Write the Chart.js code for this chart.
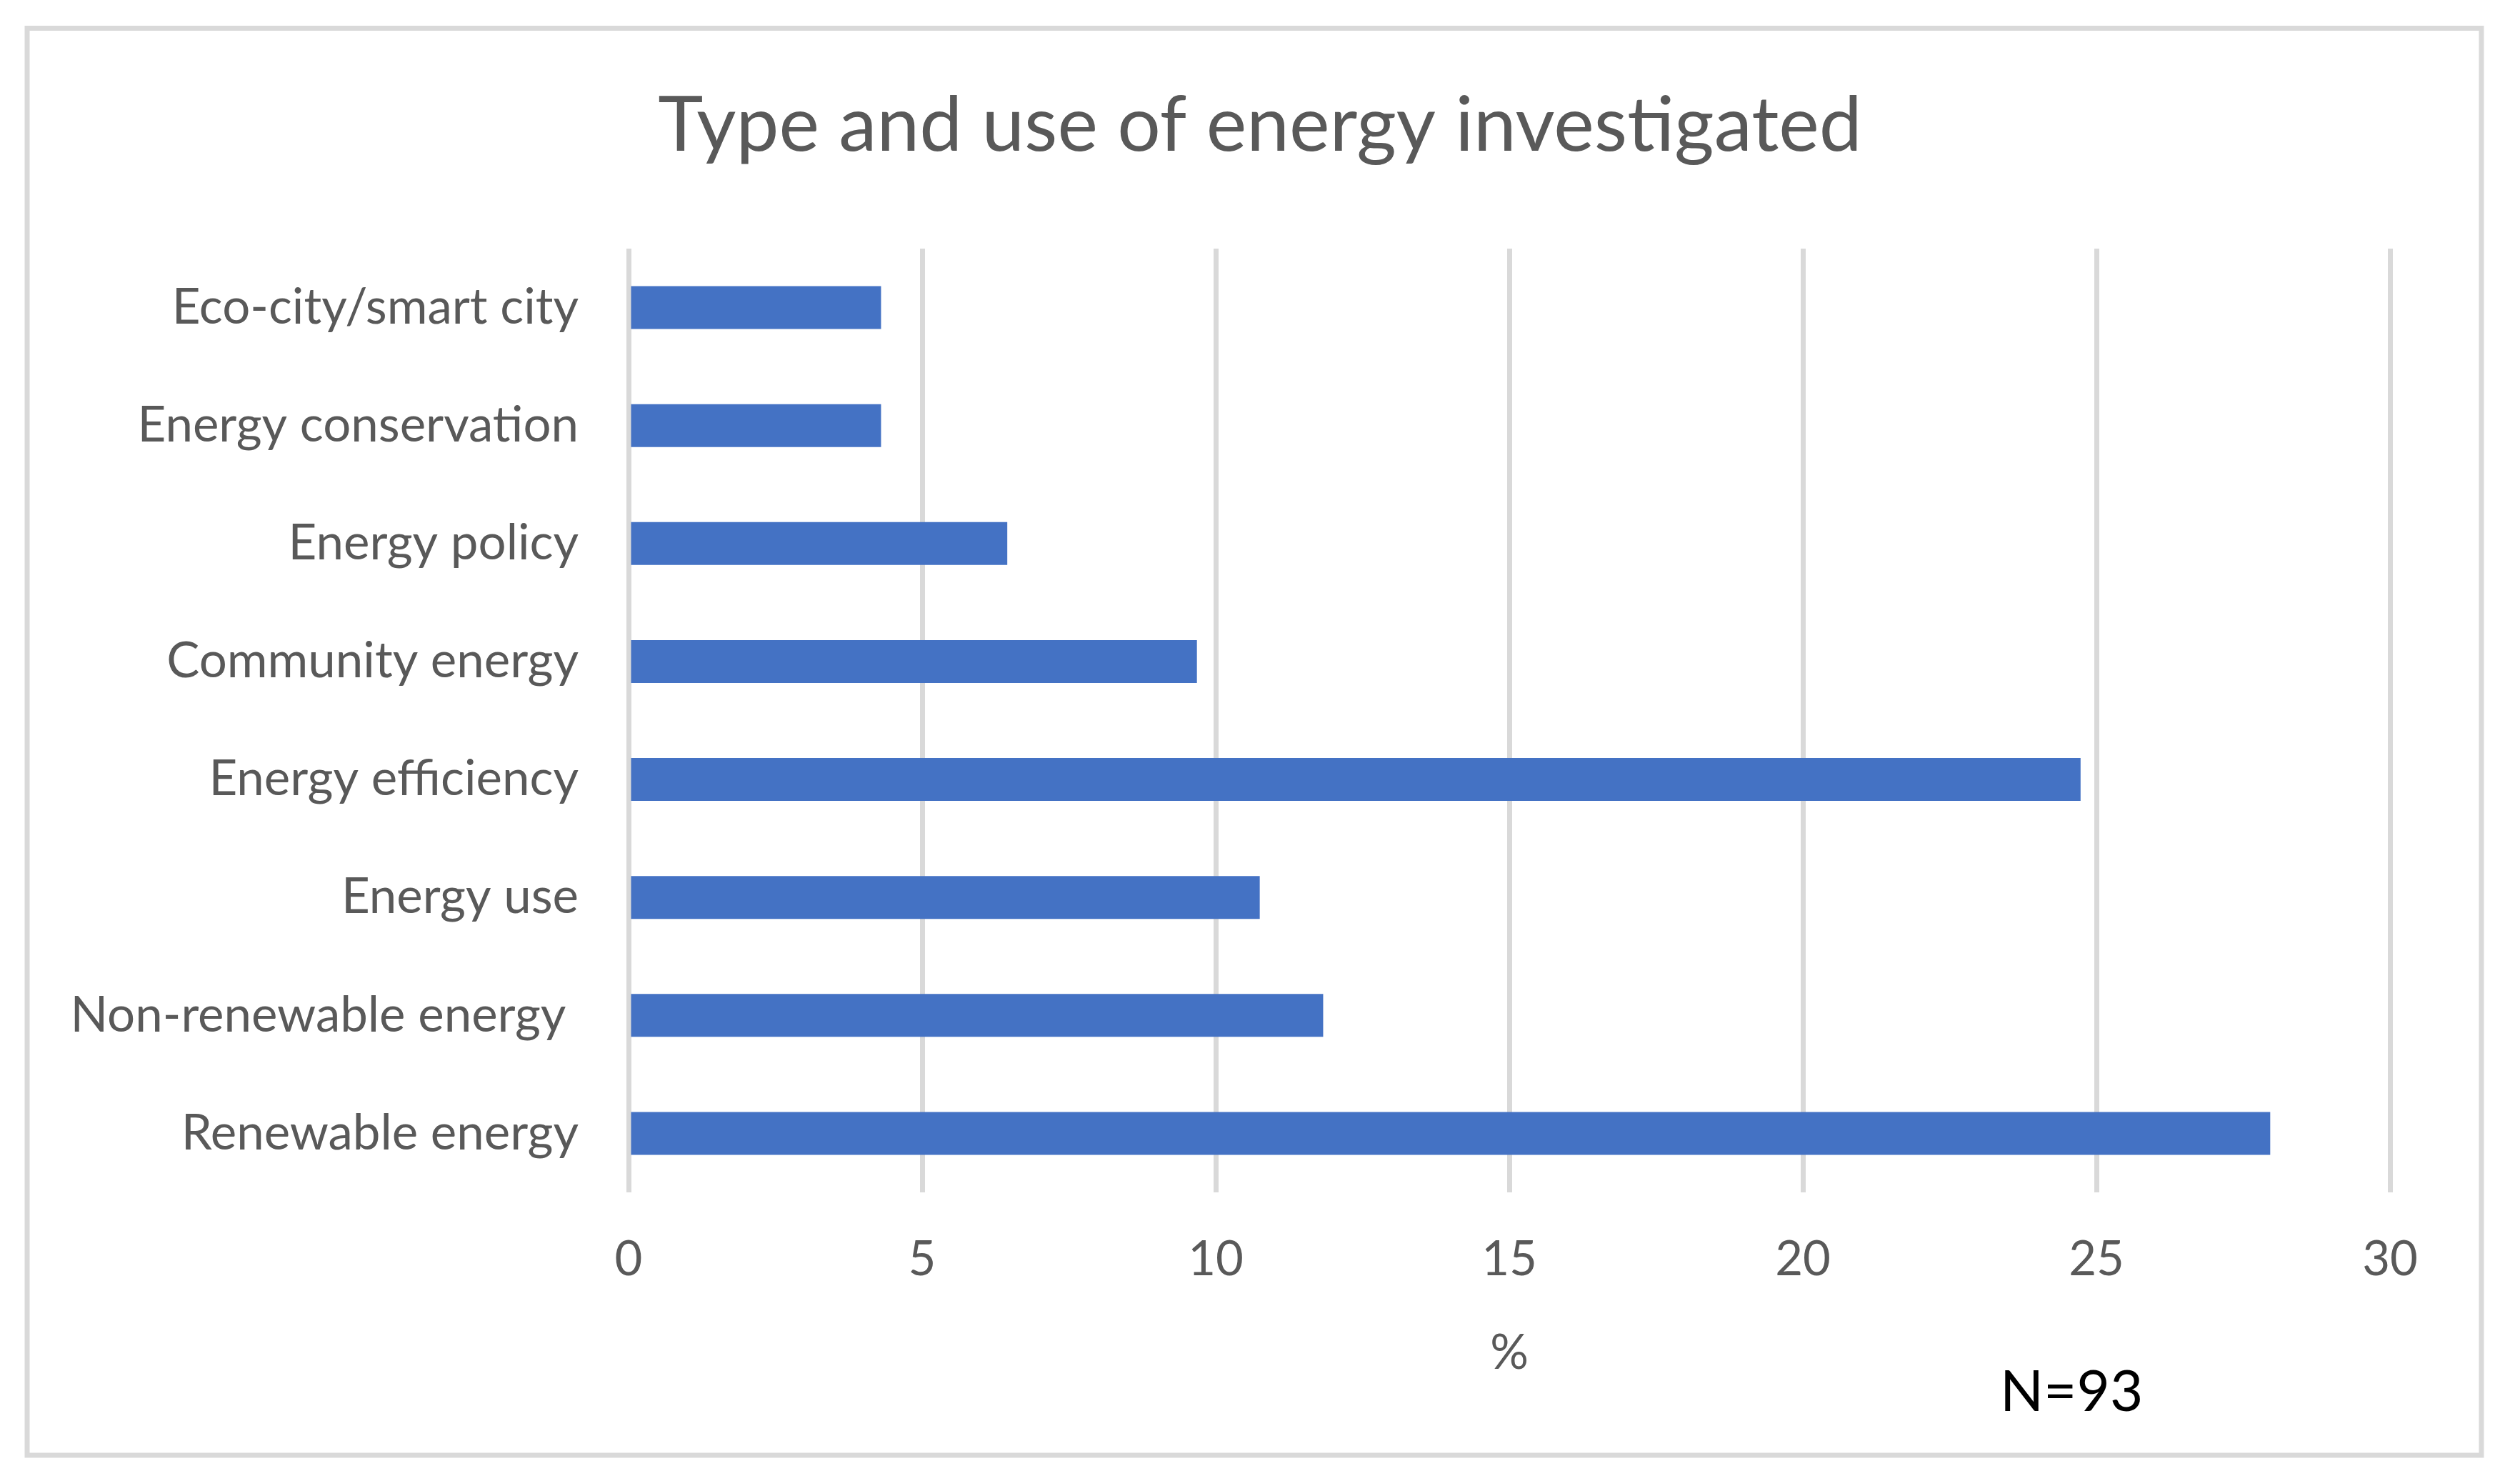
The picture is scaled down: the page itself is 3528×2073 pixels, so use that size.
<!DOCTYPE html>
<html>
<head>
  <meta charset="UTF-8">
  <title>Type and use of energy investigated</title>
  <script src="https://cdn.jsdelivr.net/npm/chart.js"></script>
  <style>
    html, body { margin: 0; padding: 0; background: #fff; }
    canvas { display: block; }
  </style>
</head>
<body>
  <canvas id="energyChart" width="3528" height="2073"></canvas>

  <script>
    // data (share of 93 studies, %)
    const categories = ['Eco-city/smart city', 'Energy conservation', 'Energy policy', 'Community energy',
                        'Energy efficiency', 'Energy use', 'Non-renewable energy ', 'Renewable energy'];
    const percentValues = [4.30, 4.30, 6.45, 9.68, 24.73, 10.75, 11.83, 27.96];
    const xTicks = [0, 5, 10, 15, 20, 25, 30];
    const titleText = 'Type and use of energy investigated';
    const noteText = 'N=93';

    const textGrey = '#595959';
    const fontFamily = 'Lato, "Open Sans", sans-serif';

    // frame, title (centred on the whole canvas) and the N= note
    const framePlugin = {
      id: 'frame',
      afterDraw(chart) {
        const ctx = chart.ctx;
        ctx.save();
        ctx.strokeStyle = '#d9d9d9';
        ctx.lineWidth = 7;
        ctx.strokeRect(38, 39.5, 3436, 1997.5);

        ctx.fillStyle = textGrey;
        ctx.font = '107px ' + fontFamily;
        ctx.textAlign = 'center';
        ctx.textBaseline = 'middle';
        ctx.fillText(titleText, chart.width / 2, 176);

        ctx.fillStyle = '#000';
        ctx.font = '80px ' + fontFamily;
        ctx.textBaseline = 'alphabetic';
        ctx.textAlign = 'left';
        ctx.fillText(noteText, 2800, 1975);
        ctx.restore();
      }
    };

    const ctx = document.getElementById('energyChart').getContext('2d');
    const chart = new Chart(ctx, {
      type: 'bar',
      data: {
        labels: categories,
        datasets: [{
          data: percentValues,
          backgroundColor: '#4472C4',
          borderWidth: 0,
          barPercentage: 0.363,
          categoryPercentage: 1
        }]
      },
      options: {
        indexAxis: 'y',
        responsive: false,
        devicePixelRatio: 1,
        animation: false,
        layout: { padding: { top: 348, left: 0, right: 182, bottom: 138 } },
        plugins: {
          legend: { display: false },
          tooltip: { enabled: false },
          title: { display: false }
        },
        scales: {
          x: {
            min: 0,
            max: 30,
            afterBuildTicks(scale) { scale.ticks = xTicks.map(v => ({ value: v })); },
            afterFit(scale) { scale.height = 266; },
            grid: { color: '#d9d9d9', lineWidth: 7, drawTicks: false },
            border: { display: false },
            ticks: {
              color: textGrey,
              padding: 54,
              maxRotation: 0,
              font: { family: fontFamily, size: 67, lineHeight: 1.2 }
            },
            title: {
              display: true,
              text: '%',
              color: textGrey,
              padding: 0,
              font: { family: fontFamily, size: 67, lineHeight: 1.2 }
            }
          },
          y: {
            afterFit(scale) { scale.width = 880; },
            grid: { display: false, drawTicks: false },
            border: { display: false },
            ticks: {
              color: textGrey,
              padding: 70,
              font: { family: fontFamily, size: 69, lineHeight: 1.2 }
            }
          }
        }
      },
      plugins: [framePlugin]
    });
  </script>
</body>
</html>
